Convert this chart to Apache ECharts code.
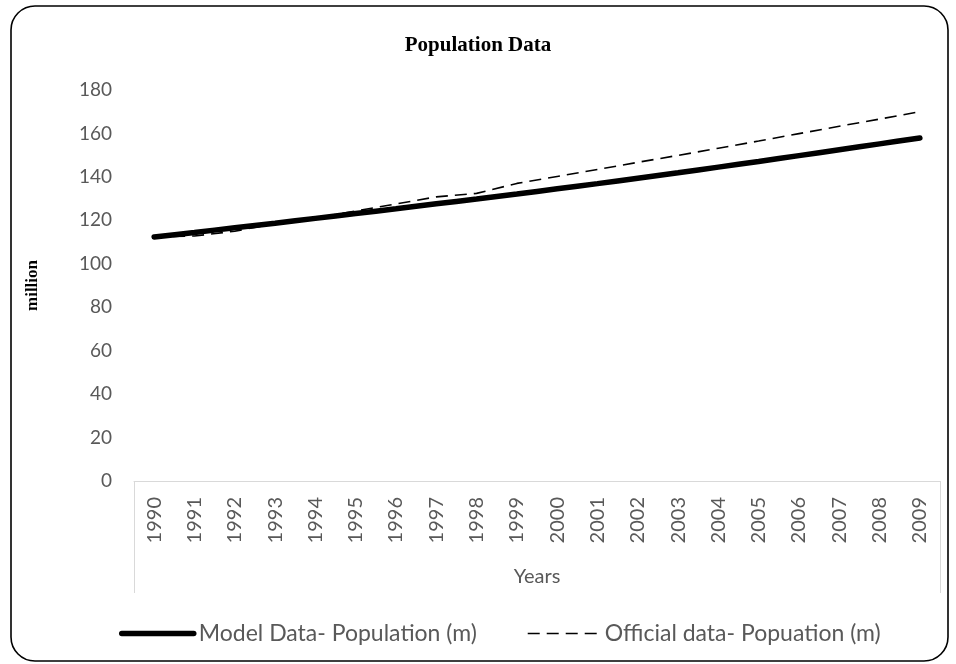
<!DOCTYPE html>
<html>
<head>
<meta charset="utf-8">
<script src="https://cdn.jsdelivr.net/npm/echarts@6/dist/echarts.min.js"></script>
<style>html,body{margin:0;padding:0;background:#fff}#c{width:956px;height:664px}</style>
</head>
<body>
<div id="c"></div>
<script>
var years = ['1990','1991','1992','1993','1994','1995','1996','1997','1998','1999','2000','2001','2002','2003','2004','2005','2006','2007','2008','2009'];
var modelData = [112.3,114.4,116.6,118.7,120.9,123.1,125.3,127.6,129.8,132.1,134.5,136.9,139.4,141.9,144.5,147.1,149.8,152.5,155.2,157.9];
var officialData = [112.3,112.8,115.0,118.5,121.0,124.3,127.5,130.8,132.4,137.0,140.2,143.4,146.7,149.9,153.2,156.5,159.9,163.3,166.6,170.0];
var yTicks = {min: 0, max: 180, interval: 20};
var names = ['Model Data- Population (m)', 'Official data- Popuation (m)'];

var chart = echarts.init(document.getElementById('c'), null, {renderer: 'canvas'});
var gray = '#595959';
var font = 'Lato, "Open Sans", sans-serif';
chart.setOption({
  animation: false,
  title: {
    text: 'Population Data', left: 'center', top: 30,
    textStyle: {fontFamily: '"Liberation Serif", "Times New Roman", serif', fontWeight: 'bold', fontSize: 21, color: '#000'}
  },
  graphic: [{
    type: 'rect', silent: true,
    shape: {x: 11, y: 6, width: 937, height: 655, r: 24},
    style: {fill: 'none', stroke: '#000', lineWidth: 1.6}
  }],
  legend: {
    left: 114, top: 617, itemWidth: 72, itemHeight: 20, itemGap: 50,
    textStyle: {fontFamily: font, fontSize: 23, color: gray},
    data: [
      {name: names[0], itemStyle: {opacity: 0}, lineStyle: {width: 5.5, color: '#000', type: 'solid', cap: 'round'}},
      {name: names[1], itemStyle: {opacity: 0}, lineStyle: {width: 1.6, color: '#000', type: [12, 7]}}
    ]
  },
  grid: {left: 134, right: 16, top: 90, bottom: 183, containLabel: false},
  xAxis: {
    type: 'category', data: years, boundaryGap: true,
    name: 'Years', nameLocation: 'middle', nameGap: 86,
    nameTextStyle: {fontFamily: font, fontSize: 20, color: gray},
    axisLine: {show: true, lineStyle: {color: '#d9d9d9', width: 1}},
    axisTick: {show: true, length: 112, interval: function (i) { return i === 0; }, lineStyle: {color: '#d9d9d9', width: 1}},
    axisLabel: {interval: 0, rotate: 90, margin: 16, fontFamily: font, fontSize: 20, color: gray},
    splitLine: {show: false}
  },
  yAxis: {
    type: 'value', min: yTicks.min, max: yTicks.max, interval: yTicks.interval,
    name: 'million', nameLocation: 'middle', nameGap: 93, nameRotate: 90,
    nameTextStyle: {fontFamily: '"Liberation Serif", "Times New Roman", serif', fontWeight: 'bold', fontSize: 17, color: '#000'},
    axisLine: {show: false}, axisTick: {show: false},
    axisLabel: {margin: 22, fontFamily: font, fontSize: 19, color: gray},
    splitLine: {show: false}
  },
  series: [
    {
      name: names[0], type: 'line', data: modelData, symbol: 'none', smooth: 0.3, z: 3,
      lineStyle: {width: 5.5, color: '#000', cap: 'round'}, itemStyle: {color: '#000'}
    },
    {
      name: names[1], type: 'line', data: officialData, symbol: 'none', z: 4,
      lineStyle: {width: 1.6, color: '#000', type: [12, 7]}, itemStyle: {color: '#000'}
    }
  ]
});
</script>
</body>
</html>
